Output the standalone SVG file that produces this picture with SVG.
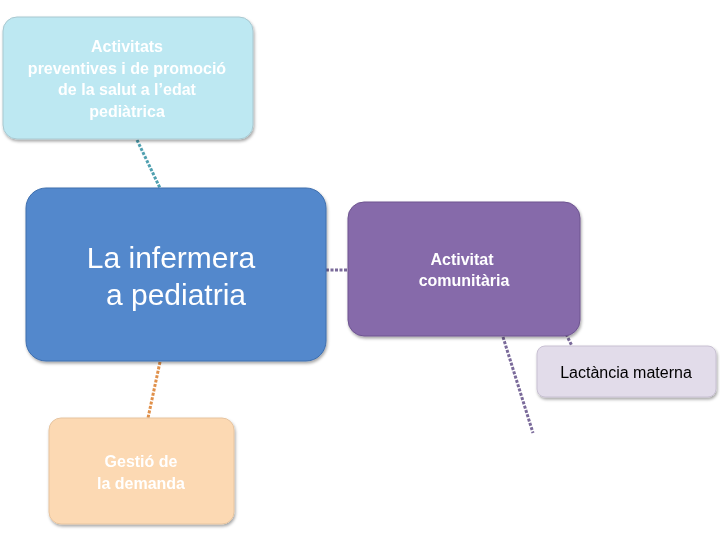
<svg xmlns="http://www.w3.org/2000/svg" width="720" height="540" viewBox="0 0 720 540">
<style>
text{font-family:"Liberation Sans",Arial,sans-serif;text-anchor:middle}
.b{font-weight:bold;font-size:16px;fill:#fff}
.c{fill:none;stroke-width:3;stroke-dasharray:3 1.5}
</style>
<defs>
<filter id="s" x="-10%" y="-10%" width="125%" height="125%"><feDropShadow dx="1" dy="2" stdDeviation="1.5" flood-opacity="0.35"/></filter>
</defs>
<rect width="720" height="540" fill="#fff"/>
<g id="connectors">
<line class="c" x1="137" y1="140" x2="160" y2="188" stroke="#4fa0b0"/>
<line class="c" x1="326" y1="270" x2="348" y2="270" stroke="#7a6a9a"/>
<line class="c" x1="160" y1="362" x2="148" y2="418" stroke="#e0904a"/>
<line class="c" x1="503" y1="337" x2="533" y2="433" stroke="#7a6a9a"/>
<line class="c" x1="566" y1="334" x2="572" y2="346" stroke="#7a6a9a"/>
</g>
<g id="n1" filter="url(#s)"><rect x="3" y="17" width="250" height="122" rx="14" fill="#bde8f2" stroke="#a9c8d0"/>
<text class="b" x="127" y="52">Activitats</text><text class="b" x="127" y="74">preventives i de promoció</text><text class="b" x="127" y="95">de la salut a l’edat</text><text class="b" x="127" y="117">pediàtrica</text></g>
<g id="n2" filter="url(#s)"><rect x="26" y="188" width="300" height="173" rx="20" fill="#5388cc" stroke="#3f6fae"/>
<text x="171" y="268" font-size="30" fill="#fff">La infermera</text><text x="176" y="305" font-size="30" fill="#fff">a pediatria</text></g>
<g id="n3" filter="url(#s)"><rect x="348" y="202" width="232" height="134" rx="16" fill="#866aaa" stroke="#6e5590"/>
<text class="b" x="462" y="265">Activitat</text><text class="b" x="464" y="286">comunitària</text></g>
<g id="n4" filter="url(#s)"><rect x="537" y="346" width="179" height="51" rx="8" fill="#e2dcea" stroke="#c8c0d2"/>
<text x="626" y="378" font-size="16" fill="#000">Lactància materna</text></g>
<g id="n5" filter="url(#s)"><rect x="49" y="418" width="185" height="106" rx="12" fill="#fcd9b3" stroke="#e6c4a0"/>
<text class="b" x="141" y="467">Gestió de</text><text class="b" x="141" y="489">la demanda</text></g>
</svg>
